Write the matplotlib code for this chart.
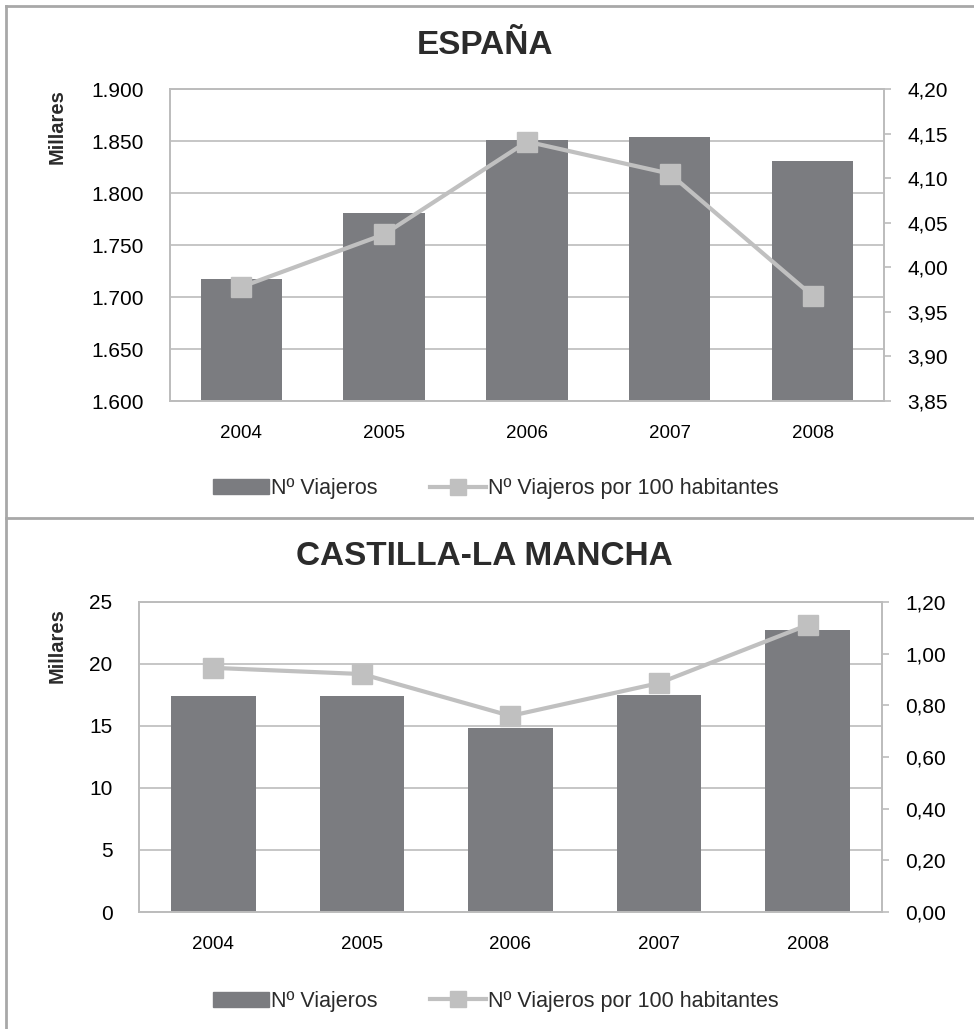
import numpy as np
import matplotlib
matplotlib.use('Agg')
import matplotlib.pyplot as plt
from matplotlib.lines import Line2D
from matplotlib.patches import Patch
from matplotlib.ticker import FuncFormatter

# ---- data ----
years = ['2004', '2005', '2006', '2007', '2008']

esp_viajeros = [1717, 1781, 1851, 1854, 1831]          # miles
esp_por_100 = [3.978, 4.037, 4.141, 4.105, 3.968]

clm_viajeros = [17.4, 17.4, 14.8, 17.5, 22.7]           # miles
clm_por_100 = [0.945, 0.921, 0.759, 0.886, 1.111]

BAR_COLOR = '#7b7c80'
LINE_COLOR = '#c0c0c0'
GRID_COLOR = '#bcbcbc'
TEXT_COLOR = '#2b2b2b'
FONT = ['Liberation Sans', 'DejaVu Sans']

plt.rcParams['font.family'] = FONT
plt.rcParams['text.color'] = TEXT_COLOR


def thousands(v, _):
    return f"{v:,.0f}".replace(',', '.')


def comma2(v, _):
    return f"{v:.2f}".replace('.', ',')


def draw_panel(fig, rect, title, title_y, bars, line, ylim, yticks,
               y2lim, y2ticks, millares_y, legend_y):
    ax = fig.add_axes(rect)
    x = np.arange(len(years))
    ax.bar(x, bars, width=0.57, color=BAR_COLOR, zorder=2)
    ax.set_xlim(-0.5, len(years) - 0.5)
    ax.set_ylim(*ylim)
    ax.set_yticks(yticks)
    ax.yaxis.set_major_formatter(FuncFormatter(thousands))
    ax.set_xticks(x)
    ax.set_xticklabels(years, fontsize=13.5)
    ax.tick_params(axis='x', length=0, pad=17)
    ax.tick_params(axis='y', length=0, pad=19, labelsize=15)
    ax.grid(axis='y', color=GRID_COLOR, lw=1.2, zorder=0)
    for s in ('left', 'bottom', 'right', 'top'):
        ax.spines[s].set_color(GRID_COLOR)
        ax.spines[s].set_linewidth(1.2)

    ax2 = ax.twinx()
    ax2.plot(x, line, color=LINE_COLOR, lw=3, marker='s', markersize=14,
             markerfacecolor=LINE_COLOR, markeredgecolor=LINE_COLOR, zorder=3)
    ax2.set_ylim(*y2lim)
    ax2.set_yticks(y2ticks)
    ax2.yaxis.set_major_formatter(FuncFormatter(comma2))
    ax2.tick_params(axis='y', length=5, width=1.2, color=GRID_COLOR,
                    pad=12, labelsize=15)
    for s in ('left', 'bottom', 'right', 'top'):
        ax2.spines[s].set_color(GRID_COLOR)
        ax2.spines[s].set_linewidth(1.2)

    fig.text(0.4975, title_y, title, ha='center', va='center',
             fontsize=24, fontweight='bold')
    fig.text(0.0585, millares_y, 'Millares', rotation=90, ha='center',
             va='top', fontsize=14.5, fontweight='bold')

    handles = [Patch(facecolor=BAR_COLOR, edgecolor=BAR_COLOR),
               Line2D([0], [0], color=LINE_COLOR, lw=3, marker='s',
                      markersize=11, markerfacecolor=LINE_COLOR,
                      markeredgecolor=LINE_COLOR)]
    labels = ['Nº Viajeros', 'Nº Viajeros por 100 habitantes']
    fig.legend(handles, labels, loc='center', bbox_to_anchor=(0.509, legend_y),
               ncol=2, frameon=False, handlelength=2.6, handletextpad=0.1,
               columnspacing=2.4, prop={'size': 15.5})
    return ax, ax2


fig = plt.figure(figsize=(9.74, 10.29), dpi=100)

draw_panel(fig, [0.1745, 0.6103, 0.7331, 0.3032], 'ESPAÑA', 0.956,
           esp_viajeros, esp_por_100, (1600, 1900),
           np.arange(1600, 1901, 50), (3.85, 4.20),
           np.arange(3.85, 4.2001, 0.05), 0.913, 0.525)

draw_panel(fig, [0.1427, 0.1137, 0.7628, 0.3013], 'CASTILLA-LA MANCHA', 0.459,
           clm_viajeros, clm_por_100, (0, 25), np.arange(0, 26, 5),
           (0, 1.2), np.arange(0, 1.2001, 0.2), 0.409, 0.027)

# panel frames
frame = dict(color='#a8a8a8', lw=2, transform=fig.transFigure)
fig.add_artist(Line2D([0.006, 1.0], [0.9942, 0.9942], **frame))
fig.add_artist(Line2D([0.006, 1.0], [0.4966, 0.4966], **frame))
fig.add_artist(Line2D([0.006, 0.006], [0.0, 0.9942], **frame))

fig.savefig('out.png', dpi=100, facecolor='white')
